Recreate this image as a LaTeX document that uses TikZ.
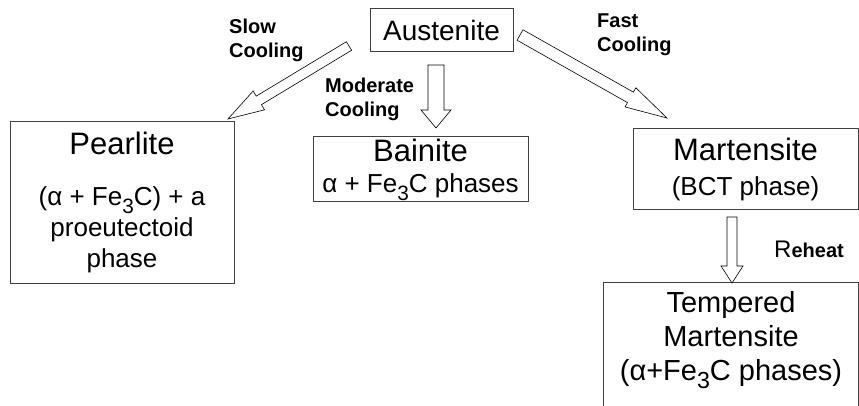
\documentclass[tikz,border=0pt]{standalone}
\usepackage{fontspec}
\setmainfont{Liberation Sans}
\usetikzlibrary{calc}
\tikzstyle{phase} = [rectangle, draw=black!75, line width=1pt, inner sep=0pt, align=center, font=\fontsize{26}{31}\selectfont]
\tikzstyle{rate} = [inner sep=0pt, align=left, anchor=west, font=\bfseries\fontsize{20}{24}\selectfont]
\tikzstyle{hollow} = [draw=black, line width=0.6pt, fill=white, line join=miter]
\newcommand{\bigname}{\fontsize{31}{34}\selectfont}
\newcommand{\lowidx}[1]{\raisebox{-0.3em}{\scalebox{0.8}{#1}}}
% block arrow: from, to, shaft half width, head half width, head length
\newcommand{\blockarrow}[5]{%
  \draw[hollow] ($(#1)!#3!90:(#2)$) -- ($(#2)!#5!(#1)!#3!90:(#2)$)
    -- ($(#2)!#5!(#1)!#4!90:(#2)$) -- (#2)
    -- ($(#2)!#5!(#1)!#4!-90:(#2)$) -- ($(#2)!#5!(#1)!#3!-90:(#2)$)
    -- ($(#1)!#3!-90:(#2)$) -- cycle;}

\begin{document}
\begin{tikzpicture}[x=1pt, y=-1pt]
\useasboundingbox (0,0) rectangle (859,406);
% Nodes
\node (aus) [phase, minimum width=143pt, minimum height=43pt] at (441.5,30.5) {\fontsize{28}{30}\selectfont Austenite};
\node (pearl) [phase, minimum width=224pt, minimum height=161pt] at (122,202.5) {{\bigname Pearlite}\\[20pt] (α + Fe\lowidx{3}C) + a\\proeutectoid\\phase};
\node (bain) [phase, minimum width=215pt, minimum height=65pt] at (420.5,169.5) {{\bigname Bainite}\\ α + Fe\lowidx{3}C phases};
\node (mart) [phase, minimum width=225pt, minimum height=81pt] at (745.5,169.5) {{\bigname Martensite}\\[4pt](BCT phase)};
\node (temp) [phase, anchor=north west, minimum width=255pt, minimum height=150pt, text depth=44pt, font=\fontsize{29}{34}\selectfont] at (603,282) {Tempered\\Martensite\\(α+Fe\lowidx{3}C phases)};

% Labels
\node (slow) [rate] at (229,40) {Slow\\Cooling};
\node (mod) [rate] at (325,99) {Moderate\\Cooling};
\node (fast) [rate] at (597,35) {Fast\\Cooling};
\node (reheat) [inner sep=0pt, anchor=west] at (774,249) {\fontsize{24}{26}\selectfont R{\bfseries\fontsize{20}{22}\selectfont eheat}};

% Arrow ends
\coordinate (slowA) at (349,46);
\coordinate (slowB) at (228,119);
\coordinate (modA) at (436,65);
\coordinate (modB) at (436,128);
\coordinate (fastA) at (520,35);
\coordinate (fastB) at (667,118);
\coordinate (heatA) at (732,217);
\coordinate (heatB) at (732,283);

% Arrows
\blockarrow{slowA}{slowB}{5pt}{11pt}{36pt}
\blockarrow{modA}{modB}{8pt}{15pt}{18pt}
\blockarrow{fastA}{fastB}{6pt}{11pt}{42pt}
\blockarrow{heatA}{heatB}{5pt}{11pt}{17pt}
\end{tikzpicture}
\end{document}
